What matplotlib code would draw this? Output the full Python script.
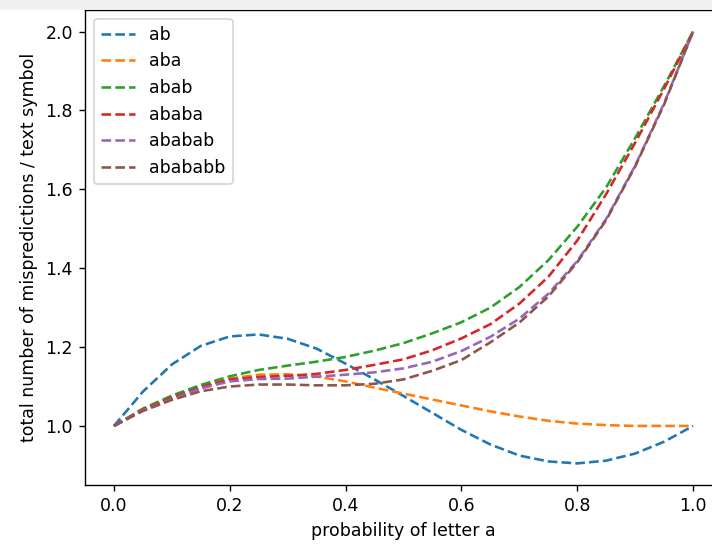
import numpy as np
import matplotlib.pyplot as plt

# values at p = 0, 0.05, ..., 1.0
p = [0.0, 0.05, 0.1, 0.15, 0.2, 0.25, 0.3, 0.35, 0.4, 0.45, 0.5,
     0.55, 0.6, 0.65, 0.7, 0.75, 0.8, 0.85, 0.9, 0.95, 1.0]

ab = [1.0, 1.087, 1.156, 1.203, 1.227, 1.232, 1.221, 1.196, 1.158, 1.118, 1.076,
      1.033, 0.990, 0.953, 0.925, 0.910, 0.905, 0.912, 0.930, 0.960, 1.0]
aba = [1.0, 1.042, 1.073, 1.100, 1.120, 1.130, 1.131, 1.125, 1.113, 1.097, 1.082,
       1.067, 1.052, 1.037, 1.024, 1.013, 1.006, 1.002, 1.000, 1.000, 1.0]
abab = [1.0, 1.044, 1.077, 1.104, 1.126, 1.142, 1.153, 1.163, 1.175, 1.191, 1.210,
        1.235, 1.263, 1.300, 1.352, 1.420, 1.505, 1.605, 1.730, 1.862, 2.0]
ababa = [1.0, 1.042, 1.072, 1.098, 1.118, 1.124, 1.127, 1.132, 1.142, 1.155, 1.169,
         1.192, 1.222, 1.258, 1.310, 1.378, 1.470, 1.588, 1.718, 1.855, 2.0]
ababab = [1.0, 1.040, 1.068, 1.095, 1.113, 1.119, 1.120, 1.125, 1.130, 1.136, 1.146,
          1.163, 1.190, 1.226, 1.272, 1.335, 1.418, 1.525, 1.660, 1.818, 2.0]
abababb = [1.0, 1.038, 1.066, 1.088, 1.100, 1.105, 1.105, 1.103, 1.103, 1.107, 1.118,
           1.140, 1.167, 1.212, 1.262, 1.328, 1.415, 1.522, 1.658, 1.815, 2.0]

series = [("ab", ab), ("aba", aba), ("abab", abab),
          ("ababa", ababa), ("ababab", ababab), ("abababb", abababb)]

fig = plt.figure(figsize=(712 / 125, 544 / 125), dpi=125)
# light grey strip of the screenshot above the axes
fig.patches.append(plt.Rectangle((0, 535 / 544), 1, 9 / 544, transform=fig.transFigure,
                                 color="#f0f0f0", zorder=0))
# the axes run past the right edge of the picture (it was cropped)
ax = fig.add_axes([85 / 712, 59 / 544, 637 / 712, 475 / 544])
ax.spines["right"].set_visible(False)

for name, vals in series:
    ax.plot(p, vals, "--", label=name)

ax.set_xlabel("probability of letter a")
ax.set_ylabel("total number of mispredictions / text symbol")
ax.legend(loc="upper left")

fig.savefig("out.png", dpi=125)
